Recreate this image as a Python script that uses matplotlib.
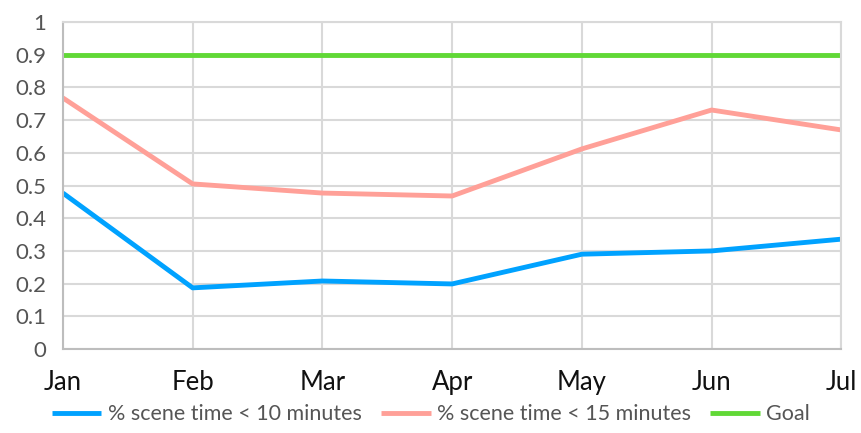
import matplotlib
matplotlib.use("Agg")
import matplotlib.pyplot as plt
import numpy as np

months = ["Jan", "Feb", "Mar", "Apr", "May", "Jun", "Jul"]
under_10 = [0.477, 0.187, 0.208, 0.199, 0.290, 0.300, 0.336]
under_15 = [0.768, 0.505, 0.477, 0.468, 0.612, 0.731, 0.670]
goal = [0.9, 0.9, 0.9, 0.9, 0.9, 0.9, 0.9]

plt.rcParams['font.family'] = ['Lato', 'DejaVu Sans']

fig = plt.figure(figsize=(8.62, 4.33), dpi=100)
ax = fig.add_axes([0.073, 0.194, 0.903, 0.755])

x = np.arange(len(months))
ax.plot(x, under_10, color="#00a2ff", lw=3.5, label="% scene time < 10 minutes", solid_capstyle="butt")
ax.plot(x, under_15, color="#ffa098", lw=3.5, label="% scene time < 15 minutes", solid_capstyle="butt")
ax.plot(x, goal, color="#61d836", lw=3.5, label="Goal", solid_capstyle="butt")

ax.set_xlim(0, len(months) - 1)
ax.set_ylim(0, 1)
ax.set_yticks(np.arange(0, 1.01, 0.1))
ax.set_yticklabels(["0", "0.1", "0.2", "0.3", "0.4", "0.5", "0.6", "0.7", "0.8", "0.9", "1"])
ax.set_xticks(x)
ax.set_xticklabels(months)

ax.grid(True, color="#d9d9d9", lw=1.5)
ax.set_axisbelow(True)
for side in ["top", "right"]:
    ax.spines[side].set_color("#d9d9d9")
    ax.spines[side].set_linewidth(1.5)
for side in ["left", "bottom"]:
    ax.spines[side].set_color("#bdbdbd")
    ax.spines[side].set_linewidth(1.5)

ax.tick_params(axis="y", length=0, pad=12, labelsize=16, labelcolor="#555555")
ax.tick_params(axis="x", length=0, pad=15, labelsize=18.5, labelcolor="#111111")

fig.legend(loc="lower center", bbox_to_anchor=(0.5, -0.025), ncol=3, frameon=False,
           fontsize=15.5, labelcolor="#555555", handlelength=2.3, handletextpad=0.3,
           columnspacing=0.9)

fig.savefig("out.png", dpi=100)
